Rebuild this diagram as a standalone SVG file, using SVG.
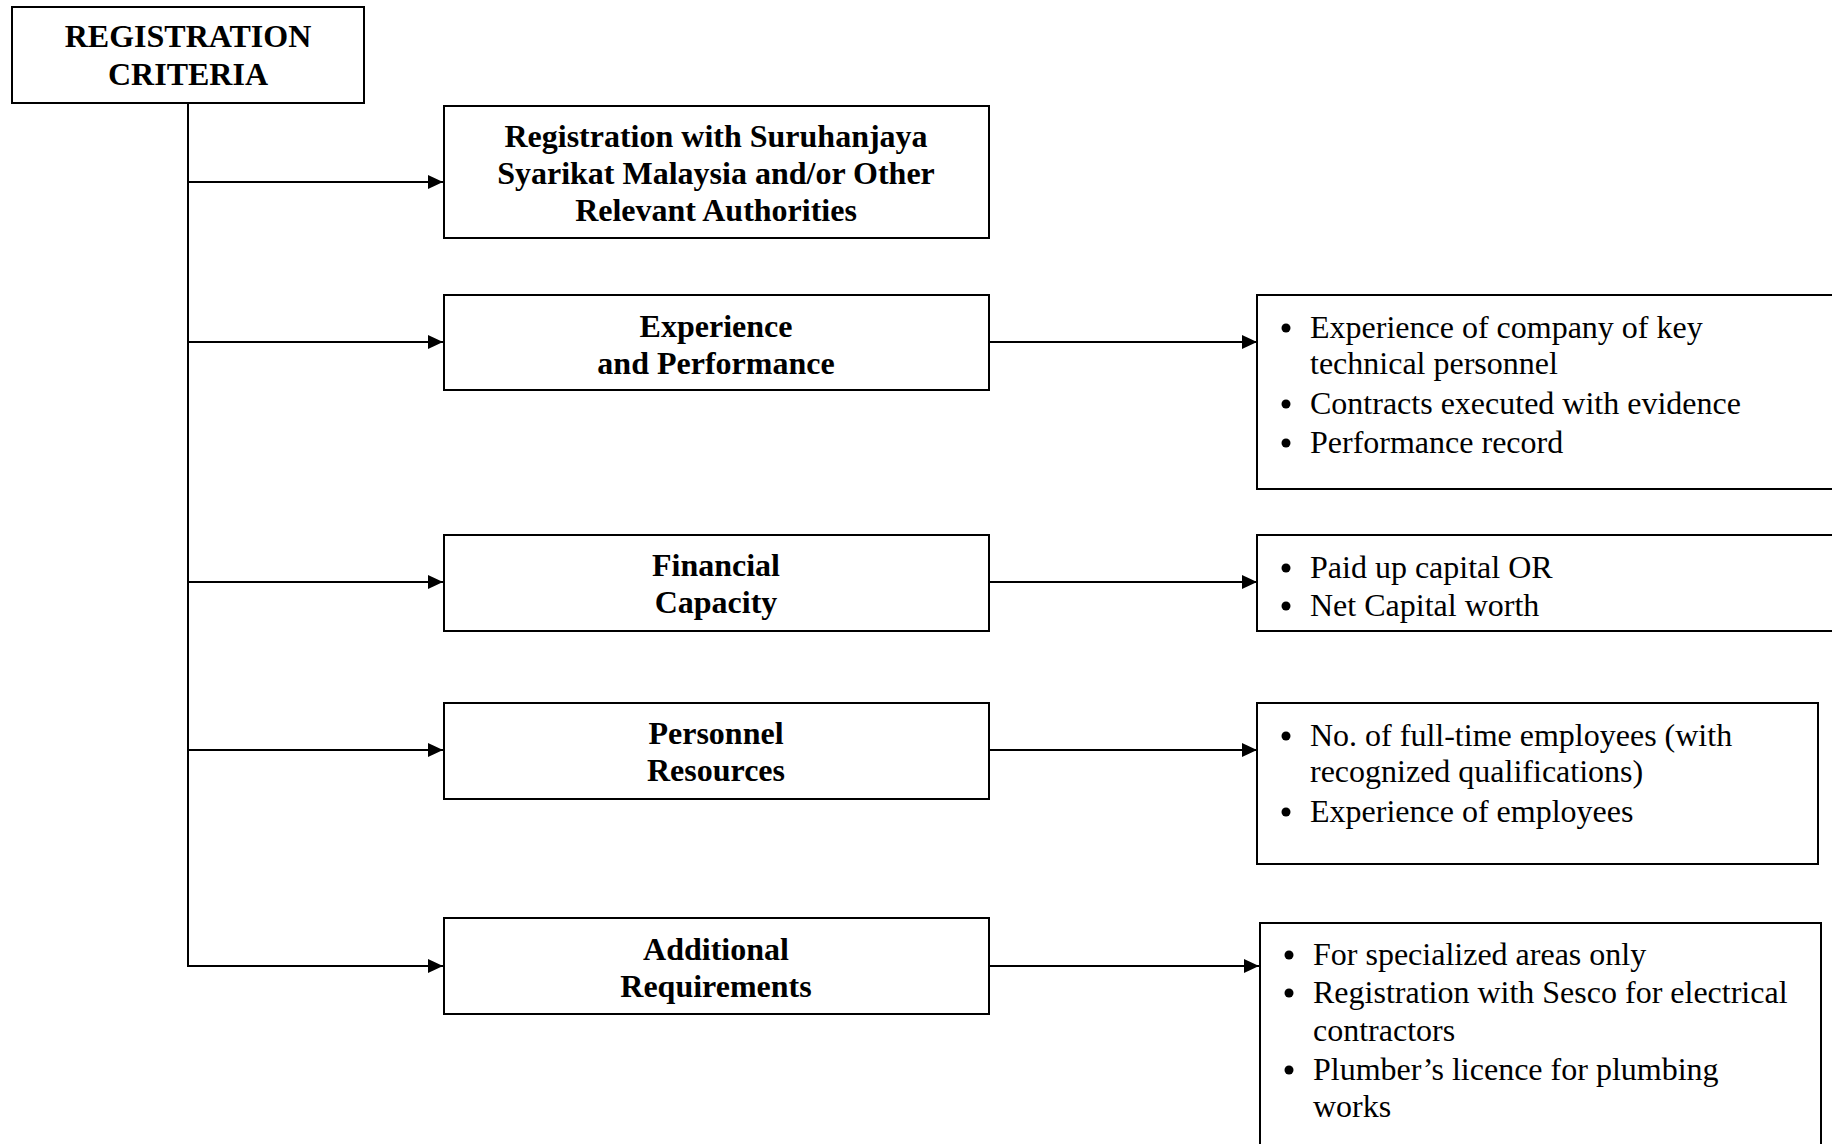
<svg xmlns="http://www.w3.org/2000/svg" width="1832" height="1144" viewBox="0 0 1832 1144">
<style>
.box{fill:#fff;stroke:#000;stroke-width:2}
.hd{font-family:"Liberation Serif","Times New Roman",serif;font-weight:bold;font-size:32px;text-anchor:middle;fill:#000}
.it{font-family:"Liberation Serif","Times New Roman",serif;font-size:32px;fill:#000}
.ln{fill:none;stroke:#000;stroke-width:2}
.bl{fill:#000}
</style>
<defs>
<marker id="ah" markerWidth="16" markerHeight="14" refX="15" refY="7" orient="auto" markerUnits="userSpaceOnUse">
<path d="M0,0 L15,7 L0,14 Z" fill="#000"/>
</marker>
</defs>
<rect width="1832" height="1144" fill="#fff"/>
<g id="connectors">
<path class="ln" d="M188,103 V967"/>
<path class="ln" d="M188,182 H443" marker-end="url(#ah)"/>
<path class="ln" d="M188,342 H443" marker-end="url(#ah)"/>
<path class="ln" d="M188,582 H443" marker-end="url(#ah)"/>
<path class="ln" d="M188,750 H443" marker-end="url(#ah)"/>
<path class="ln" d="M188,966 H443" marker-end="url(#ah)"/>
<path class="ln" d="M989,342 H1257" marker-end="url(#ah)"/>
<path class="ln" d="M989,582 H1257" marker-end="url(#ah)"/>
<path class="ln" d="M989,750 H1257" marker-end="url(#ah)"/>
<path class="ln" d="M989,966 H1259" marker-end="url(#ah)"/>
</g>
<g id="root">
<rect class="box" x="12" y="7" width="352" height="96"/>
<text class="hd" x="188" y="47">REGISTRATION</text>
<text class="hd" x="188" y="85">CRITERIA</text>
</g>
<g id="n1">
<rect class="box" x="444" y="106" width="545" height="132"/>
<text class="hd" x="716" y="147">Registration with Suruhanjaya</text>
<text class="hd" x="716" y="184">Syarikat Malaysia and/or Other</text>
<text class="hd" x="716" y="221">Relevant Authorities</text>
</g>
<g id="n2">
<rect class="box" x="444" y="295" width="545" height="95"/>
<text class="hd" x="716" y="337">Experience</text>
<text class="hd" x="716" y="374">and Performance</text>
</g>
<g id="n3">
<rect class="box" x="444" y="535" width="545" height="96"/>
<text class="hd" x="716" y="576">Financial</text>
<text class="hd" x="716" y="613">Capacity</text>
</g>
<g id="n4">
<rect class="box" x="444" y="703" width="545" height="96"/>
<text class="hd" x="716" y="744">Personnel</text>
<text class="hd" x="716" y="781">Resources</text>
</g>
<g id="n5">
<rect class="box" x="444" y="918" width="545" height="96"/>
<text class="hd" x="716" y="960">Additional</text>
<text class="hd" x="716" y="997">Requirements</text>
</g>
<g id="d1">
<rect class="box" x="1257" y="295" width="600" height="194"/>
<circle class="bl" cx="1286" cy="328" r="4.5"/>
<text class="it" x="1310" y="338">Experience of company of key</text>
<text class="it" x="1310" y="374">technical personnel</text>
<circle class="bl" cx="1286" cy="404" r="4.5"/>
<text class="it" x="1310" y="414">Contracts executed with evidence</text>
<circle class="bl" cx="1286" cy="443" r="4.5"/>
<text class="it" x="1310" y="453">Performance record</text>
</g>
<g id="d2">
<rect class="box" x="1257" y="535" width="600" height="96"/>
<circle class="bl" cx="1286" cy="568" r="4.5"/>
<text class="it" x="1310" y="578">Paid up capital OR</text>
<circle class="bl" cx="1286" cy="606" r="4.5"/>
<text class="it" x="1310" y="616">Net Capital worth</text>
</g>
<g id="d3">
<rect class="box" x="1257" y="703" width="561" height="161"/>
<circle class="bl" cx="1286" cy="736" r="4.5"/>
<text class="it" x="1310" y="746">No. of full-time employees (with</text>
<text class="it" x="1310" y="782">recognized qualifications)</text>
<circle class="bl" cx="1286" cy="812" r="4.5"/>
<text class="it" x="1310" y="822">Experience of employees</text>
</g>
<g id="d4">
<rect class="box" x="1260" y="923" width="561" height="240"/>
<circle class="bl" cx="1289" cy="955" r="4.5"/>
<text class="it" x="1313" y="965">For specialized areas only</text>
<circle class="bl" cx="1289" cy="993" r="4.5"/>
<text class="it" x="1313" y="1003">Registration with Sesco for electrical</text>
<text class="it" x="1313" y="1041">contractors</text>
<circle class="bl" cx="1289" cy="1070" r="4.5"/>
<text class="it" x="1313" y="1080">Plumber’s licence for plumbing</text>
<text class="it" x="1313" y="1117">works</text>
</g>
</svg>
